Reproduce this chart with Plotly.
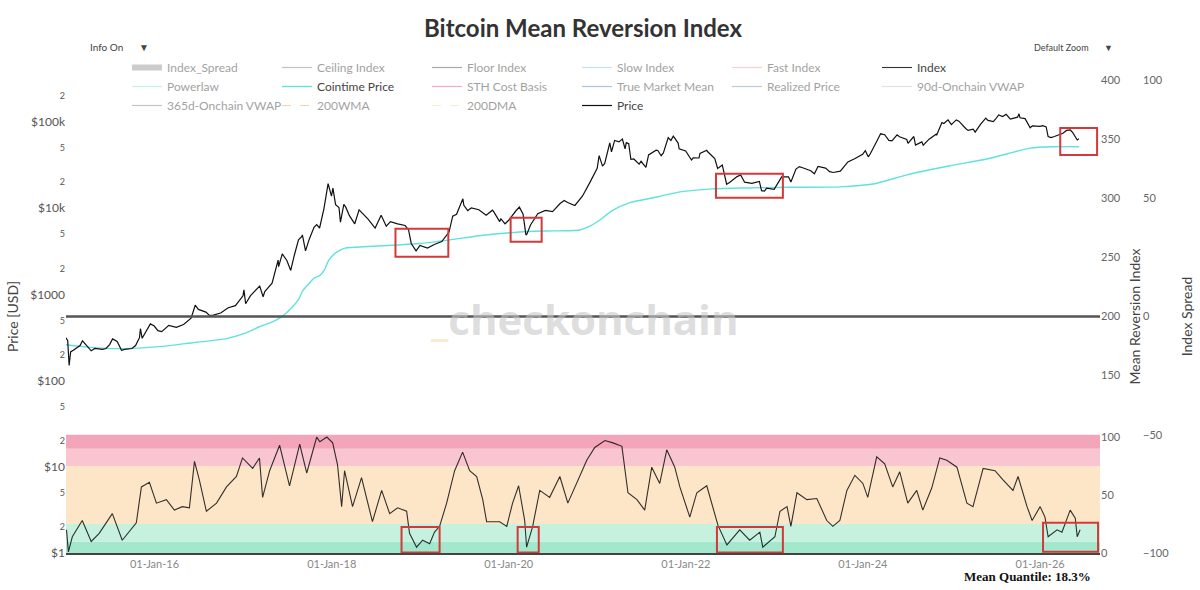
import plotly.graph_objects as go

# ---------------- data ----------------
price_dates = [
    "2015-01-01", "2015-01-08", "2015-01-14", "2015-01-20", "2015-01-31", "2015-02-15", "2015-02-28",
    "2015-03-10", "2015-03-31", "2015-04-15", "2015-04-30", "2015-05-31", "2015-06-15", "2015-06-30",
    "2015-07-12", "2015-07-31", "2015-08-18", "2015-08-31", "2015-09-30", "2015-10-15", "2015-10-31",
    "2015-11-04", "2015-11-11", "2015-11-30", "2015-12-15", "2015-12-31",
    "2016-01-15", "2016-01-31", "2016-02-29", "2016-03-31", "2016-04-30", "2016-05-31", "2016-06-17",
    "2016-06-30", "2016-07-31", "2016-08-15", "2016-08-31", "2016-09-30", "2016-10-31", "2016-11-30",
    "2016-12-31",
    "2017-01-04", "2017-01-11", "2017-01-31", "2017-02-28", "2017-03-10", "2017-03-24", "2017-03-31",
    "2017-04-30", "2017-05-25", "2017-05-27", "2017-06-11", "2017-06-30", "2017-07-16", "2017-07-31",
    "2017-08-17", "2017-08-31", "2017-09-02", "2017-09-15", "2017-09-30", "2017-10-20", "2017-10-31",
    "2017-11-12", "2017-11-30", "2017-12-17", "2017-12-31",
    "2018-01-06", "2018-01-17", "2018-01-31", "2018-02-06", "2018-02-20", "2018-02-28", "2018-03-15",
    "2018-03-31", "2018-04-06", "2018-04-24", "2018-04-30", "2018-05-31", "2018-06-29", "2018-07-24",
    "2018-08-14", "2018-08-31", "2018-09-30", "2018-10-31", "2018-11-14", "2018-11-25", "2018-12-15",
    "2018-12-31",
    "2019-01-31", "2019-02-28", "2019-03-31", "2019-04-30", "2019-05-15", "2019-05-31", "2019-06-26",
    "2019-06-30", "2019-07-16", "2019-07-31", "2019-08-31", "2019-09-24", "2019-09-30", "2019-10-26",
    "2019-10-31", "2019-11-25", "2019-11-30", "2019-12-17", "2019-12-31",
    "2020-01-31", "2020-02-14", "2020-02-29", "2020-03-12", "2020-03-16", "2020-03-31", "2020-04-30",
    "2020-05-31", "2020-06-30", "2020-07-27", "2020-07-31", "2020-08-17", "2020-08-31", "2020-09-30",
    "2020-10-31", "2020-11-30", "2020-12-31",
    "2021-01-08", "2021-01-22", "2021-01-31", "2021-02-21", "2021-02-28", "2021-03-13", "2021-03-31",
    "2021-04-14", "2021-04-25", "2021-04-30", "2021-05-10", "2021-05-19", "2021-05-31", "2021-06-22",
    "2021-06-30", "2021-07-20", "2021-07-31", "2021-08-31", "2021-09-07", "2021-09-21", "2021-09-30",
    "2021-10-20", "2021-10-31", "2021-11-10", "2021-11-30", "2021-12-04", "2021-12-31",
    "2022-01-24", "2022-01-31", "2022-02-24", "2022-02-28", "2022-03-28", "2022-03-31", "2022-04-30",
    "2022-05-12", "2022-05-31", "2022-06-18", "2022-06-30", "2022-07-31", "2022-08-15", "2022-08-31",
    "2022-09-30", "2022-10-31", "2022-11-09", "2022-11-21", "2022-11-30", "2022-12-31",
    "2023-01-31", "2023-02-28", "2023-03-10", "2023-03-31", "2023-04-14", "2023-04-30", "2023-05-31",
    "2023-06-15", "2023-06-30", "2023-07-31", "2023-08-17", "2023-08-31", "2023-09-30", "2023-10-31",
    "2023-11-30", "2023-12-31",
    "2024-01-11", "2024-01-23", "2024-01-31", "2024-02-29", "2024-03-14", "2024-03-31", "2024-04-17",
    "2024-04-30", "2024-05-21", "2024-05-31", "2024-06-30", "2024-07-05", "2024-07-29", "2024-08-05",
    "2024-08-31", "2024-09-06", "2024-09-30", "2024-10-29", "2024-10-31", "2024-11-22", "2024-11-30",
    "2024-12-17", "2024-12-31",
    "2025-01-20", "2025-01-31", "2025-02-28", "2025-03-10", "2025-03-31", "2025-04-08", "2025-04-30",
    "2025-05-22", "2025-05-31", "2025-06-22", "2025-06-30", "2025-07-14", "2025-07-31", "2025-08-14",
    "2025-08-31", "2025-09-30", "2025-10-06", "2025-10-10", "2025-10-31", "2025-11-21", "2025-11-30",
    "2025-12-31",
    "2026-01-12", "2026-01-26", "2026-02-03", "2026-02-15", "2026-03-01", "2026-03-19", "2026-04-05",
    "2026-04-20", "2026-05-05", "2026-05-15", "2026-05-28", "2026-06-03", "2026-06-10",
]
price_usd = [
    315, 290, 150, 215, 225, 240, 255, 290, 245, 222, 236, 230, 236, 262, 305, 285, 225, 230, 236, 255,
    315, 400, 310, 377, 455, 430,
    380, 370, 437, 416, 448, 530, 750, 670, 624, 570, 575, 609, 700, 742, 963,
    1130, 780, 970, 1190, 1250, 940, 1080, 1350, 2500, 2100, 2950, 2480, 1900, 2870, 4300, 4700, 4900,
    3200, 4350, 6000, 6450, 5900, 9900, 19300, 13800,
    17100, 11000, 10200, 6900, 11100, 10300, 8200, 6900, 6600, 9600, 9200, 7500, 5900, 8300, 6200, 7000,
    6600, 6300, 5600, 3900, 3200, 3700,
    3450, 3800, 4100, 5300, 8100, 8500, 12900, 10800, 9400, 10100, 9600, 8500, 8300, 9500, 9150, 7000,
    7550, 6600, 7200,
    9350, 10300, 8600, 4900, 5000, 6400, 8650, 9450, 9130, 11000, 11350, 12300, 11650, 10780, 13800,
    19700, 29000,
    40800, 30800, 33100, 57500, 45200, 61200, 58900, 63500, 49000, 57700, 56000, 37000, 37300, 32500,
    35000, 29800, 41500, 47100, 46800, 40700, 43800, 66000, 61300, 68700, 57000, 49000, 46300,
    36300, 38500, 38300, 43200, 47100, 45500, 37700, 28900, 31800, 19000, 19900, 23300, 24300, 20050,
    19400, 20500, 16000, 15800, 17150, 16550,
    23100, 23150, 20200, 28500, 30400, 29300, 27200, 25100, 30500, 29200, 26600, 26000, 26970, 34500,
    37700, 42300,
    46500, 39500, 42600, 61200, 73100, 71300, 61300, 60600, 71000, 67500, 62700, 56700, 68000, 54000,
    58900, 53900, 63300, 72300, 70200, 98500, 96400, 106000, 93400,
    106000, 102400, 84300, 80000, 82500, 76300, 94200, 111000, 104600, 101000, 107100, 121000, 115700,
    123000, 108200, 114000, 124500, 112000, 109500, 86000, 90400, 89000,
    91000, 88000, 68000, 66000, 68000, 71000, 74000, 80000, 81000, 76000, 66000, 62000, 64000,
]

cointime_dates = [
    "2015-01-01", "2015-04-01", "2015-08-22", "2016-01-21", "2016-06-06", "2016-10-24", "2017-01-15",
    "2017-03-09", "2017-05-01", "2017-06-08", "2017-07-24", "2017-08-20", "2017-09-03", "2017-10-01",
    "2017-10-20", "2017-11-12", "2017-12-01", "2017-12-20", "2018-01-15", "2018-02-03", "2018-02-25",
    "2018-06-01", "2018-09-26", "2019-01-01", "2019-05-03", "2019-09-01", "2020-02-16", "2020-06-01",
    "2020-10-20", "2020-12-01", "2021-01-11", "2021-03-01", "2021-05-15", "2021-09-03", "2021-12-07",
    "2022-04-22", "2022-09-09", "2023-03-01", "2023-09-28", "2024-02-12", "2024-07-01", "2024-12-25",
    "2025-06-09", "2025-11-21", "2026-02-24", "2026-06-11",
]
cointime_usd = [
    261, 245, 235, 248, 275, 307, 360, 422, 480, 550, 720, 900, 1100, 1350, 1550, 1650, 1900, 2500, 3000,
    3250, 3450, 3600, 3750, 3900, 4300, 4800, 5300, 5450, 5600, 6200, 7300, 9300, 11600, 13500, 15500,
    16800, 17200, 17500, 17700, 19100, 24400, 31100, 38000, 49900, 51800, 51800,
]

index_dates = [
    "2015-01-03", "2015-01-11", "2015-01-27", "2015-03-09", "2015-04-15", "2015-05-18", "2015-07-11",
    "2015-08-21", "2015-10-18", "2015-11-08", "2015-12-11", "2016-01-09", "2016-02-19", "2016-03-23",
    "2016-04-25", "2016-05-24", "2016-06-14", "2016-07-04", "2016-08-02", "2016-09-13", "2016-10-24",
    "2016-12-04", "2016-12-29", "2017-02-09", "2017-03-09", "2017-03-22", "2017-04-20", "2017-05-31",
    "2017-07-11", "2017-08-22", "2017-09-20", "2017-10-31", "2017-11-13", "2017-12-12", "2018-01-05",
    "2018-01-25", "2018-02-11", "2018-02-23", "2018-03-28", "2018-05-04", "2018-06-18", "2018-07-26",
    "2018-08-28", "2018-09-30", "2018-11-06", "2018-11-18", "2018-12-17", "2019-01-11", "2019-02-09",
    "2019-03-01", "2019-03-22", "2019-04-20", "2019-05-23", "2019-06-25", "2019-07-24", "2019-08-22",
    "2019-09-16", "2019-10-02", "2019-11-25", "2019-12-24", "2020-01-17", "2020-02-11", "2020-03-07",
    "2020-03-15", "2020-04-09", "2020-05-08", "2020-06-18", "2020-07-30", "2020-09-01", "2020-10-21",
    "2020-11-18", "2020-12-21", "2021-02-01", "2021-03-06", "2021-04-12", "2021-05-07", "2021-06-13",
    "2021-07-15", "2021-08-13", "2021-09-15", "2021-10-14", "2021-11-16", "2021-12-07", "2022-01-17",
    "2022-02-15", "2022-03-28", "2022-04-22", "2022-05-13", "2022-06-19", "2022-08-11", "2022-09-21",
    "2022-11-02", "2022-11-14", "2023-01-03", "2023-01-24", "2023-02-22", "2023-03-10", "2023-04-04",
    "2023-05-15", "2023-06-25", "2023-08-05", "2023-08-30", "2023-09-28", "2023-10-27", "2023-11-29",
    "2024-01-01", "2024-01-21", "2024-02-27", "2024-03-31", "2024-05-03", "2024-06-01", "2024-07-04",
    "2024-08-10", "2024-09-04", "2024-10-11", "2024-11-13", "2024-12-12", "2025-01-23", "2025-03-05",
    "2025-03-30", "2025-05-11", "2025-06-29", "2025-08-01", "2025-09-11", "2025-10-02", "2025-11-08",
    "2025-11-29", "2026-01-01", "2026-01-21", "2026-02-03", "2026-03-12", "2026-04-01", "2026-05-05",
    "2026-05-26", "2026-06-03", "2026-06-15",
]
index_vals = [
    20, 1, 14, 28, 10, 17, 34, 11, 26, 57, 61, 43, 46, 37, 40, 39, 79, 63, 36, 43, 57, 66, 82, 73, 82,
    48, 71, 93, 58, 94, 69, 100, 96, 100, 95, 76, 40, 71, 40, 65, 27, 54, 34, 39, 36, 17, 5, 11, 8, 18,
    23, 43, 71, 87, 71, 66, 46, 27, 27, 23, 43, 58, 28, 5, 23, 54, 48, 66, 43, 66, 80, 91, 97, 95, 92,
    52, 46, 37, 74, 60, 89, 74, 57, 31, 52, 58, 40, 24, 7, 20, 11, 18, 5, 14, 36, 40, 23, 52, 46, 47,
    28, 23, 28, 54, 67, 60, 48, 83, 77, 57, 70, 43, 54, 37, 56, 82, 80, 74, 43, 40, 73, 71, 63, 54, 66,
    40, 28, 40, 31, 14, 20, 18, 37, 30, 14, 20,
]

mean_quantile = 18.3

# quantile bands of the lower panel
band_edges = [0, 10, 25, 75, 90, 102]
band_colors = ["#a3e8cc", "#c6f1df", "#fde6c8", "#f8c5d1", "#f3a6b9"]

# highlighted periods: (start, end, low, high)
price_boxes = [
    ("2018-09-21", "2019-04-27", 2735, 5770),
    ("2020-01-09", "2020-05-16", 4085, 7740),
    ("2022-05-05", "2023-02-05", 13200, 25060),
    ("2026-03-25", "2026-08-24", 41600, 85500),
]
index_boxes = [
    ("2018-10-16", "2019-03-22", 0.5, 22.5),
    ("2020-02-07", "2020-05-04", 0.5, 22.5),
    ("2022-05-09", "2023-02-05", 0.5, 22.5),
    ("2026-01-13", "2026-08-28", 1, 26),
]

# series that are switched off in the legend (name, colour, width, dash, axis)
hidden_a = [
    ("Index_Spread", "#9a9a9a", 6, "solid", "y3"),
    ("Ceiling Index", "#888888", 1.2, "solid", "y2"),
    ("Floor Index", "#555555", 1.2, "solid", "y2"),
    ("Slow Index", "#8ec5e6", 1.2, "solid", "y2"),
    ("Fast Index", "#f2a0b4", 1.2, "solid", "y2"),
]
hidden_b = [
    ("Powerlaw", "#8fe6dc", 1.2, "solid", "y"),
]
hidden_c = [
    ("STH Cost Basis", "#e0607a", 1.2, "solid", "y"),
    ("True Market Mean", "#5f86d6", 1.2, "solid", "y"),
    ("Realized Price", "#7f9aa8", 1.2, "solid", "y"),
    ("90d-Onchain VWAP", "#c8c8c8", 1.2, "solid", "y"),
    ("365d-Onchain VWAP", "#8c8c8c", 1.2, "solid", "y"),
    ("200WMA", "#f4a65c", 1.2, "dash", "y"),
    ("200DMA", "#f7d9a0", 1.2, "dash", "y"),
]

FONT = "Lato"
fig = go.Figure()


def add_hidden(items):
    for name, color, width, dash, ax in items:
        fig.add_trace(go.Scatter(x=[None], y=[None], mode="lines", name=name, visible="legendonly",
                                 yaxis=ax, line=dict(color=color, width=width, dash=dash)))


add_hidden(hidden_a)
fig.add_trace(go.Scatter(x=index_dates, y=index_vals, mode="lines", name="Index", yaxis="y4",
                         line=dict(color="rgba(15,15,15,0.85)", width=1.1)))
add_hidden(hidden_b)
fig.add_trace(go.Scatter(x=cointime_dates, y=cointime_usd, mode="lines", name="Cointime Price",
                         line=dict(color="#5ee3dc", width=1.4, shape="spline", smoothing=0.6)))
add_hidden(hidden_c)
fig.add_trace(go.Scatter(x=price_dates, y=price_usd, mode="lines", name="Price",
                         line=dict(color="#111111", width=1.2)))

shapes = []
for i, c in enumerate(band_colors):
    shapes.append(dict(type="rect", xref="x domain", yref="y4", x0=0, x1=1,
                       y0=band_edges[i], y1=band_edges[i + 1], fillcolor=c,
                       line=dict(width=0), layer="below"))
shapes.append(dict(type="line", xref="x domain", yref="y2", x0=0, x1=1, y0=200, y1=200,
                   line=dict(color="#555555", width=2)))
shapes.append(dict(type="line", xref="x domain", yref="y3", x0=0, x1=1, y0=0, y1=0,
                   line=dict(color="#555555", width=2)))
for s, e, lo, hi in price_boxes:
    shapes.append(dict(type="rect", xref="x", yref="y", x0=s, x1=e, y0=lo, y1=hi,
                       line=dict(color="#d23a3a", width=2), fillcolor="rgba(0,0,0,0)"))
for s, e, lo, hi in index_boxes:
    shapes.append(dict(type="rect", xref="x", yref="y4", x0=s, x1=e, y0=lo, y1=hi,
                       line=dict(color="#d23a3a", width=2), fillcolor="rgba(0,0,0,0)"))

PW = 1200 - 66 - 100  # paper (plot area) width in px
PH = 590 - 80 - 37

axis_font = dict(family=FONT, size=11, color="#666666")
title_font = dict(family=FONT, size=14, color="#444444")

fig.update_layout(
    width=1200, height=590,
    margin=dict(l=66, r=100, t=80, b=37, autoexpand=False),
    paper_bgcolor="white", plot_bgcolor="rgba(0,0,0,0)",
    font=dict(family=FONT, color="#555555"),
    title=dict(text="<b>Bitcoin Mean Reversion Index</b>", x=583 / 1200, xref="container",
               xanchor="center", y=1 - 29 / 590, yref="container", yanchor="middle",
               font=dict(family=FONT, size=24, color="#333333")),
    showlegend=True,
    legend=dict(orientation="h", x=(127 - 66) / PW, xanchor="left", y=1 + 27 / PH, yanchor="top",
                entrywidth=105, entrywidthmode="pixels", font=dict(family=FONT, size=12, color="#444444"),
                bgcolor="rgba(0,0,0,0)", traceorder="normal"),
    xaxis=dict(type="date", domain=[0, 1], range=["2015-01-01", "2026-09-05"],
               tickformat="%d-%b-%y", dtick="M24", tick0="2016-01-01", showgrid=False,
               zeroline=False, showline=True, linecolor="#444444", linewidth=1.5, ticks="",
               tickfont=dict(family=FONT, size=11, color="#888888"), automargin=False),
    yaxis=dict(type="log", range=[0, 5.488], dtick="D2", tickprefix="$", showgrid=False,
               zeroline=False, ticks="", tickfont=dict(family=FONT, size=12, color="#555555"),
               title=dict(text="Price [USD]", font=title_font, standoff=8), automargin=False),
    yaxis2=dict(overlaying="y", side="right", anchor="x", range=[0, 400],
                tickvals=[150, 200, 250, 300, 350, 400], showgrid=False, zeroline=False,
                tickfont=axis_font, title=dict(text="Mean Reversion Index", font=title_font, standoff=10),
                automargin=False),
    yaxis3=dict(overlaying="y", side="right", anchor="free", position=1, shift=42, autoshift=False,
                range=[-100, 100], dtick=50, showgrid=False, zeroline=False, tickfont=axis_font,
                title=dict(text="Index Spread", font=title_font, standoff=14), automargin=False),
    yaxis4=dict(overlaying="y", side="right", anchor="x", range=[0, 408], tickvals=[0, 50, 100],
                showgrid=False, zeroline=False, tickfont=axis_font, automargin=False),
    shapes=shapes,
    annotations=[
        dict(text='<span style="color:#f8dcae">_</span>checkonchain', xref="paper", yref="paper",
             x=(584 - 66) / PW, y=(553 - 318) / PH, xanchor="center", yanchor="middle",
             showarrow=False, font=dict(family="Open Sans", size=42, color="rgba(200,200,200,0.6)",
                                        weight="bold")),
        dict(text=f"<b>Mean Quantile: {mean_quantile}%</b>", xref="paper", yref="paper",
             x=(1027 - 66) / PW, y=(553 - 576) / PH, xanchor="center", yanchor="middle",
             showarrow=False, font=dict(family="Liberation Serif", size=13, color="#111111")),
    ],
    updatemenus=[
        dict(type="dropdown", direction="down", showactive=True, active=0,
             buttons=[dict(label="Info On", method="skip"), dict(label="Info Off", method="skip")],
             x=(78 - 66) / PW, xanchor="left", y=1 + 32 / PH, yanchor="middle",
             bgcolor="white", bordercolor="white", borderwidth=0,
             font=dict(family=FONT, size=10, color="#444444"), pad=dict(t=0, b=0, l=0, r=0)),
        dict(type="dropdown", direction="down", showactive=True, active=0,
             buttons=[dict(label="Default Zoom", method="skip"), dict(label="Full History", method="skip")],
             x=(1022 - 66) / PW, xanchor="left", y=1 + 32 / PH, yanchor="middle",
             bgcolor="white", bordercolor="white", borderwidth=0,
             font=dict(family=FONT, size=9, color="#444444"), pad=dict(t=0, b=0, l=0, r=0)),
    ],
)

fig.write_html("out.html")
